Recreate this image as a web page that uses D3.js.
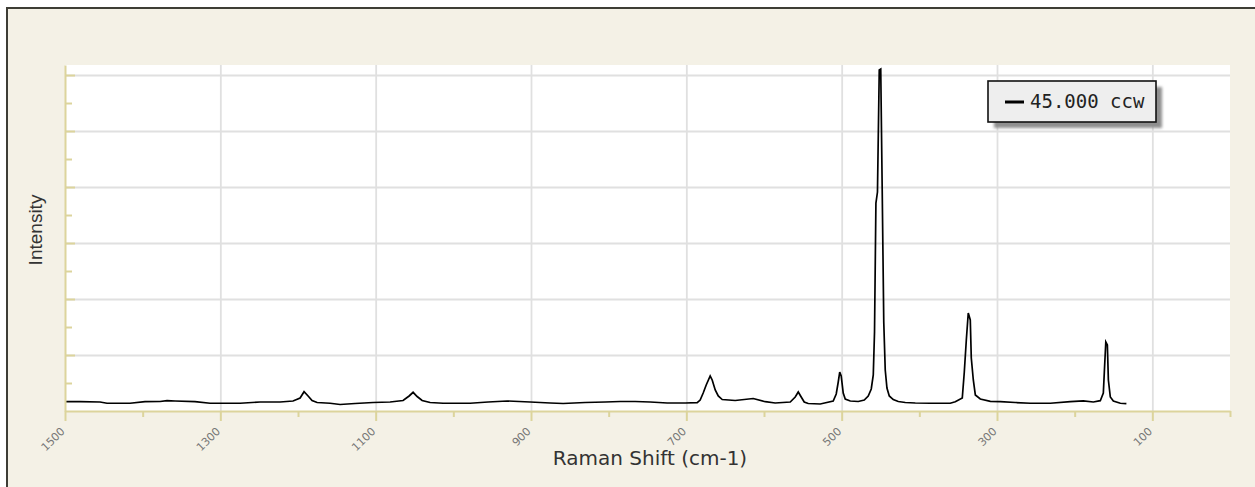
<!DOCTYPE html>
<html>
<head>
<meta charset="utf-8">
<script src="https://cdn.jsdelivr.net/npm/d3@7"></script>
<style>
  html, body { margin: 0; padding: 0; background: #ffffff; }
  svg { display: block; }
</style>
</head>
<body>
<svg id="chart" width="1255" height="487"></svg>
<script>
// Raman spectrum, 45.000 ccw orientation
const shift = [1498.7,1480.7,1454.9,1445.9,1416.3,1397.0,1377.6,1368.6,1358.3,1332.6,1313.2,1274.6,1248.9,1223.1,1206.4,1197.3,1192.2,1187.0,1181.9,1175.4,1158.7,1145.8,1126.5,1103.3,1081.4,1064.7,1056.9,1051.8,1046.6,1040.2,1029.9,1013.2,978.4,955.2,930.7,901.1,875.3,858.6,830.3,804.5,785.2,765.9,746.6,724.6,701.5,686.0,682.2,678.3,674.4,669.3,666.7,662.8,658.9,653.8,637.1,613.9,598.4,585.6,566.2,559.8,555.9,552.1,548.2,543.1,527.6,510.9,507.0,504.4,502.5,500.6,498.0,495.4,488.9,478.7,470.9,465.8,461.9,459.3,457.7,455.9,453.9,451.6,449.7,447.8,445.8,443.9,441.7,438.7,433.6,427.1,418.1,405.2,385.9,360.2,353.7,344.7,342.1,339.5,337.0,334.4,333.1,330.5,327.9,321.5,308.6,295.7,276.5,257.1,231.4,205.6,188.9,176.0,167.0,163.1,161.8,159.9,157.9,156.6,154.1,150.2,141.2,133.4];
const intensity = [166,166,161,138,138,166,170,184,179,166,138,138,161,161,179,232,345,268,188,152,138,116,134,152,161,188,268,334,259,188,152,138,138,161,179,161,143,134,152,161,170,170,161,143,143,148,196,321,464,625,554,375,268,205,188,223,166,143,161,250,339,250,161,134,125,179,304,518,696,625,321,214,179,170,196,268,393,643,1411,3714,3911,6089,6107,3946,1589,732,411,268,205,170,152,143,138,138,166,232,696,1268,1750,1625,946,554,286,214,173,166,152,138,138,166,179,161,184,321,696,1232,1179,554,250,179,138,130];

const xMajorTicks = [1500, 1300, 1100, 900, 700, 500, 300, 100];
const xMinorTicks = [1400, 1200, 1000, 800, 600, 400, 200, 0];
const yMajorTicks = [1000, 2000, 3000, 4000, 5000, 6000];
const yMinorTicks = [500, 1500, 2500, 3500, 4500, 5500];
const seriesName = "45.000 ccw";
const xTitle = "Raman Shift (cm-1)";
const yTitle = "Intensity";

const points = shift.map((s, i) => ({ s, v: intensity[i] }));

const svg = d3.select("#chart");
const plot = { left: 65, right: 1230, top: 65, bottom: 411 };
const axisColor = "#dcd49c";
const gridColor = "#e0e0e0";

const x = d3.scaleLinear().domain([1500, 0]).range([plot.left, plot.right]);
const y = d3.scaleLinear().domain([0, 6179]).range([plot.bottom, plot.top]);

// panel background and frame
svg.append("rect")
  .attr("x", 7).attr("y", 8).attr("width", 1300).attr("height", 600)
  .attr("fill", "#f4f1e6").attr("stroke", "#3e3d35").attr("stroke-width", 2);

svg.append("rect")
  .attr("x", plot.left).attr("y", plot.top)
  .attr("width", plot.right - plot.left).attr("height", plot.bottom - plot.top)
  .attr("fill", "#ffffff");

// gridlines
const gridX = svg.append("g")
  .attr("transform", `translate(0,${plot.bottom})`)
  .call(d3.axisBottom(x).tickValues(xMajorTicks.filter(d => d !== 1500))
    .tickSize(-(plot.bottom - plot.top)).tickFormat(""));
gridX.select(".domain").remove();
gridX.selectAll("line").attr("stroke", gridColor).attr("stroke-width", 1.8);

const gridY = svg.append("g")
  .attr("transform", `translate(${plot.left},0)`)
  .call(d3.axisLeft(y).tickValues(yMajorTicks)
    .tickSize(-(plot.right - plot.left)).tickFormat(""));
gridY.select(".domain").remove();
gridY.selectAll("line").attr("stroke", gridColor).attr("stroke-width", 1.8);

// spectrum
const line = d3.line().x(d => x(d.s)).y(d => y(d.v));
svg.append("path")
  .datum(points)
  .attr("d", line)
  .attr("fill", "none")
  .attr("stroke", "#000000")
  .attr("stroke-width", 1.7)
  .attr("stroke-linejoin", "miter");

// x axis
const xAxisMinor = svg.append("g")
  .attr("transform", `translate(0,${plot.bottom})`)
  .call(d3.axisBottom(x).tickValues(xMinorTicks).tickSize(6).tickFormat(""));
xAxisMinor.select(".domain").remove();
xAxisMinor.selectAll("line").attr("stroke", axisColor).attr("stroke-width", 2);

const xAxis = svg.append("g")
  .attr("transform", `translate(0,${plot.bottom})`)
  .call(d3.axisBottom(x).tickValues(xMajorTicks).tickSize(10).tickSizeOuter(0)
    .tickFormat(d3.format("d")));
xAxis.select(".domain").attr("stroke", axisColor).attr("stroke-width", 2);
xAxis.selectAll(".tick line").attr("stroke", axisColor).attr("stroke-width", 2);
xAxis.selectAll(".tick text")
  .attr("y", 0).attr("dy", 0)
  .attr("transform", "translate(0,21) rotate(-45)")
  .attr("text-anchor", "end")
  .attr("fill", "#777777")
  .style("font-family", "'DejaVu Sans', sans-serif")
  .style("font-size", "11px");

// y axis, ticks point inward
const yAxisMinor = svg.append("g")
  .attr("transform", `translate(${plot.left},0)`)
  .call(d3.axisLeft(y).tickValues(yMinorTicks).tickSize(-7).tickFormat(""));
yAxisMinor.select(".domain").remove();
yAxisMinor.selectAll("line").attr("stroke", axisColor).attr("stroke-width", 2);

const yAxis = svg.append("g")
  .attr("transform", `translate(${plot.left},0)`)
  .call(d3.axisLeft(y).tickValues(yMajorTicks).tickSize(-10).tickSizeOuter(0).tickFormat(""));
yAxis.select(".domain").attr("stroke", axisColor).attr("stroke-width", 2);
yAxis.selectAll(".tick line").attr("stroke", axisColor).attr("stroke-width", 2);

// axis titles
svg.append("text")
  .attr("x", 650).attr("y", 465)
  .attr("text-anchor", "middle")
  .attr("fill", "#333333")
  .style("font-family", "'DejaVu Sans', sans-serif")
  .style("font-size", "20px")
  .text(xTitle);

svg.append("text")
  .attr("transform", `translate(42,${(plot.top + plot.bottom) / 2 - 8}) rotate(-90)`)
  .attr("text-anchor", "middle")
  .attr("fill", "#333333")
  .style("font-family", "'Liberation Sans', Arial, sans-serif")
  .style("font-size", "19px")
  .text(yTitle);

// legend
const defs = svg.append("defs");
defs.append("filter").attr("id", "soft")
  .attr("x", "-20%").attr("y", "-20%").attr("width", "140%").attr("height", "140%")
  .append("feGaussianBlur").attr("stdDeviation", 1.4);

const legend = svg.append("g").attr("transform", "translate(988,81)");
legend.append("rect")
  .attr("x", 6).attr("y", 6).attr("width", 168).attr("height", 41)
  .attr("fill", "#8f8f8f").attr("filter", "url(#soft)");
legend.append("rect")
  .attr("x", 0).attr("y", 0).attr("width", 168).attr("height", 41)
  .attr("fill", "#eeeeee").attr("stroke", "#111111").attr("stroke-width", 1.6);
legend.append("line")
  .attr("x1", 17).attr("x2", 36).attr("y1", 21).attr("y2", 21)
  .attr("stroke", "#000000").attr("stroke-width", 3);
legend.append("text")
  .attr("x", 42).attr("y", 27)
  .attr("fill", "#222222")
  .style("font-family", "'DejaVu Sans Mono', monospace")
  .style("font-size", "19px")
  .text(seriesName);
</script>
</body>
</html>
